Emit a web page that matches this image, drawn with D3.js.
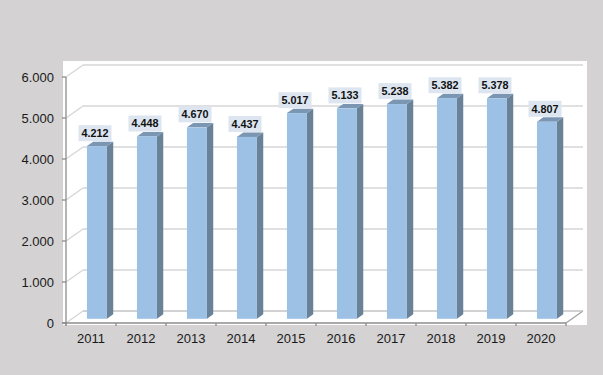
<!DOCTYPE html>
<html><head><meta charset="utf-8">
<script src="https://cdn.jsdelivr.net/npm/d3@7/dist/d3.min.js"></script>
<style>body{margin:0;background:#d4d2d2;}svg{display:block;}</style>
</head><body><svg id="c" width="603" height="375"></svg>
<script>
const years = ["2011","2012","2013","2014","2015","2016","2017","2018","2019","2020"];
const values = [4212,4448,4670,4437,5017,5133,5238,5382,5378,4807];
const valueLabels = ["4.212","4.448","4.670","4.437","5.017","5.133","5.238","5.382","5.378","4.807"];
const yTicks = [0,1000,2000,3000,4000,5000,6000];
const yTickLabels = ["0","1.000","2.000","3.000","4.000","5.000","6.000"];

const svg = d3.select("#c");
svg.append("rect").attr("width",603).attr("height",375).attr("fill","#d4d2d2");
svg.append("rect").attr("x",63).attr("y",61).attr("width",524).attr("height",264).attr("fill","#ffffff");

const x = d3.scaleBand().domain(years).range([66,566]);
const y = d3.scaleLinear().domain([0,6000]).range([323,77]);
const DX = 17, DY = -12;

// back wall gridlines and left wall diagonals
const grid = svg.append("g").attr("stroke","#d6d6d6").attr("stroke-width",1.4).attr("fill","none");
yTicks.forEach(t=>{
  grid.append("line").attr("x1",66+DX).attr("x2",566+DX).attr("y1",y(t)+DY).attr("y2",y(t)+DY);
  grid.append("line").attr("x1",66).attr("x2",66+DX).attr("y1",y(t)).attr("y2",y(t)+DY);
});
// floor right edge
svg.append("line").attr("x1",566).attr("y1",y(0)).attr("x2",566+DX).attr("y2",y(0)+DY)
  .attr("stroke","#a0a0a0").attr("stroke-width",1.2);
svg.append("line").attr("x1",66+DX).attr("y1",y(0)+DY).attr("x2",566+DX).attr("y2",y(0)+DY)
  .attr("stroke","#c4c4c4").attr("stroke-width",1.2);

// bars
const f0 = 0.35, f1 = 0.72, bw = 20;
const bars = svg.append("g");
years.forEach((yr,i)=>{
  const v = values[i];
  const cx = x(yr) + x.bandwidth()/2;
  const x0 = cx - bw/2 + DX*f0, x1 = x0 + bw;
  const yb = y(0) + DY*f0, yt = y(v) + DY*f0;
  const ddx = DX*(f1-f0), ddy = DY*(f1-f0);
  bars.append("path").attr("d",`M${x1},${yb}L${x1+ddx},${yb+ddy}L${x1+ddx},${yt+ddy}L${x1},${yt}Z`).attr("fill","#6a8298");
  bars.append("path").attr("d",`M${x0},${yt}L${x0+ddx},${yt+ddy}L${x1+ddx},${yt+ddy}L${x1},${yt}Z`).attr("fill","#7b96b3");
  bars.append("rect").attr("x",x0).attr("y",yt).attr("width",bw).attr("height",yb-yt).attr("fill","#9cc1e5");
  const lx = cx + 4, ly = yt + ddy - 0.5;
  bars.append("rect").attr("x",lx-16.5).attr("y",ly-16).attr("width",33).attr("height",16).attr("fill","#dde6f0");
  bars.append("text").attr("x",lx).attr("y",ly-4).attr("text-anchor","middle")
    .attr("font-family","Liberation Sans, Arial, sans-serif").attr("font-size",10.8).attr("font-weight","bold")
    .attr("fill","#111").text(valueLabels[i]);
});

// axes
const ax = svg.append("g").attr("stroke","#8c8c8c").attr("stroke-width",1.3);
ax.append("line").attr("x1",66).attr("x2",66).attr("y1",y(6000)).attr("y2",y(0)+2);
ax.append("line").attr("x1",62).attr("x2",566).attr("y1",y(0)).attr("y2",y(0));
yTicks.forEach(t=>ax.append("line").attr("x1",62).attr("x2",66).attr("y1",y(t)).attr("y2",y(t)));
years.concat(["end"]).forEach((yr,i)=>{
  const xx = 66 + i*x.step();
  ax.append("line").attr("x1",xx).attr("x2",xx).attr("y1",y(0)).attr("y2",y(0)+3);
});

const tf = "Liberation Sans, Arial, sans-serif";
yTicks.forEach((t,i)=>{
  svg.append("text").attr("x",54).attr("y",y(t)+4.5).attr("text-anchor","end")
    .attr("font-family",tf).attr("font-size",13).attr("fill","#1a1a1a").text(yTickLabels[i]);
});
years.forEach(yr=>{
  svg.append("text").attr("x",x(yr)+x.bandwidth()/2).attr("y",343).attr("text-anchor","middle")
    .attr("font-family",tf).attr("font-size",13).attr("fill","#1a1a1a").text(yr);
});
</script></body></html>
